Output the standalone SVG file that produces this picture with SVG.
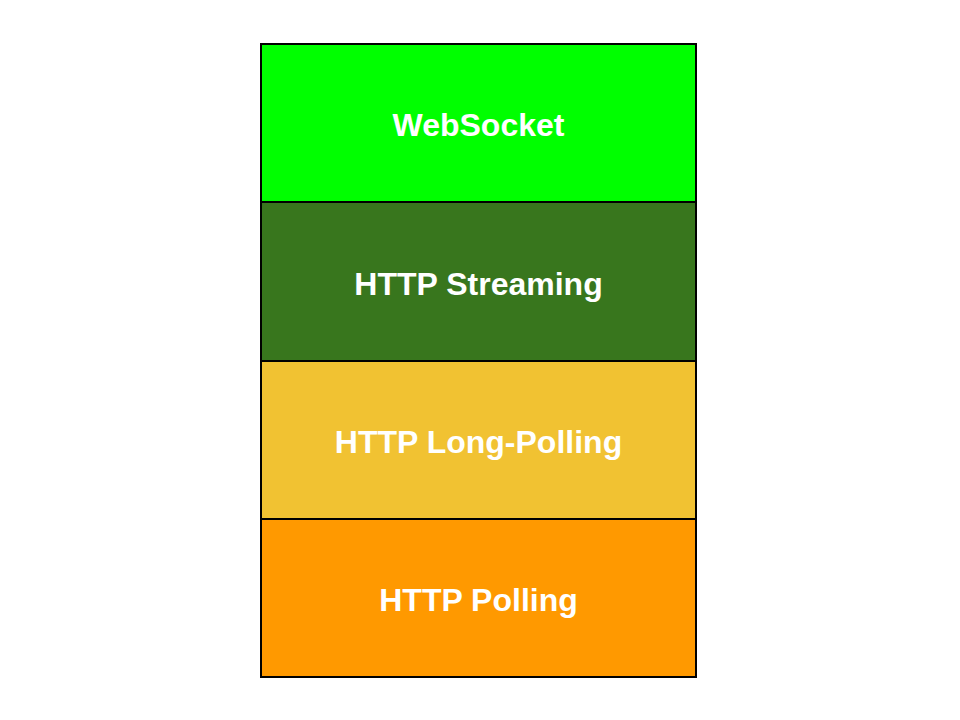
<svg xmlns="http://www.w3.org/2000/svg" width="960" height="720" viewBox="0 0 960 720">
<style>
rect.layer{stroke:#000;stroke-width:2}
text{font-family:"Liberation Sans",Arial,sans-serif;font-weight:bold;font-size:32px;fill:#fff;text-anchor:middle}
</style>
<rect width="960" height="720" fill="#fff"/>
<g id="websocket"><rect class="layer" x="261" y="44" width="435" height="158" fill="#00ff00"/><text x="478.5" y="136">WebSocket</text></g>
<g id="http-streaming"><rect class="layer" x="261" y="202" width="435" height="159" fill="#38761d"/><text x="478.5" y="295">HTTP Streaming</text></g>
<g id="http-long-polling"><rect class="layer" x="261" y="361" width="435" height="158" fill="#f1c232"/><text x="478.5" y="453">HTTP Long-Polling</text></g>
<g id="http-polling"><rect class="layer" x="261" y="519" width="435" height="158" fill="#ff9900"/><text x="478.5" y="611">HTTP Polling</text></g>
</svg>
